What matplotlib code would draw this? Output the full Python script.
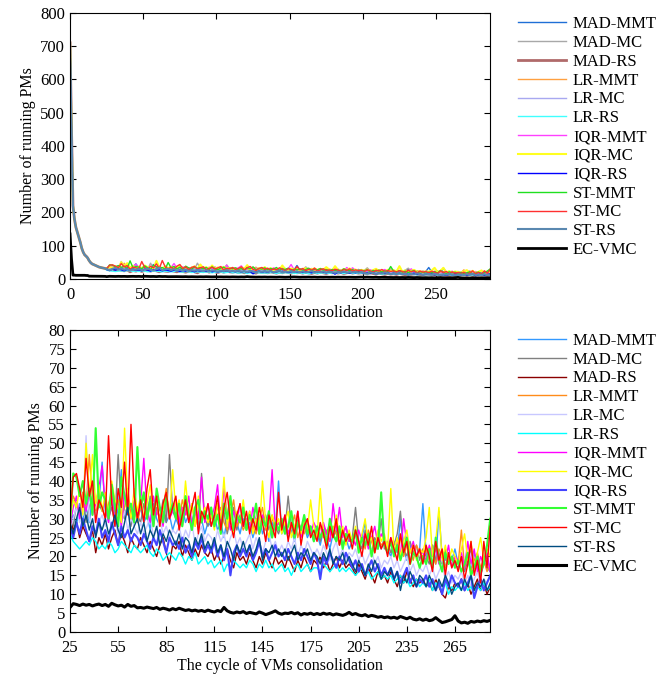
import matplotlib
matplotlib.use("Agg")
import matplotlib.pyplot as plt
import numpy as np

plt.rcParams['font.family'] = ['Liberation Serif', 'DejaVu Serif']

names = ["MAD-MMT", "MAD-MC", "MAD-RS", "LR-MMT", "LR-MC", "LR-RS",
         "IQR-MMT", "IQR-MC", "IQR-RS", "ST-MMT", "ST-MC", "ST-RS", "EC-VMC"]

# cycles 0..24 every cycle, then 25..287 every second cycle
cycles = list(range(0, 25)) + list(range(25, 288, 2))

# shared start of the 12 policies (all identical before cycle 25)
head = [710, 450, 220, 180, 155, 140, 125, 110, 92, 80, 72, 68, 63, 55, 49,
        45, 43, 41, 39, 37, 35, 34, 33, 32, 31]
ec_head = [135, 60, 11, 11, 10.5, 10.5, 10.5, 10.5, 10.5, 10.5, 10.5, 10, 10,
           8, 7.8, 7.8, 7.8, 7.7, 7.7, 7.6, 7.6, 7.5, 7.5, 7.4, 7.3]

mad_mmt = [29, 31, 28, 34, 30, 33, 29, 36, 31, 34, 45,
           32, 30, 35, 28, 33, 43, 30, 34, 29, 32, 30,
           33, 29, 31, 27, 34, 30, 28, 32, 29, 31, 27,
           30, 28, 33, 29, 31, 27, 32, 28, 30, 26, 29,
           28, 31, 27, 29, 25, 30, 33, 27, 29, 26, 30,
           27, 29, 25, 28, 31, 26, 28, 24, 29, 27, 40,
           26, 28, 25, 27, 24, 29, 26, 28, 25, 27, 24,
           26, 23, 27, 25, 22, 26, 24, 27, 23, 25, 22,
           24, 26, 22, 25, 29, 23, 25, 21, 24, 22, 25,
           22, 20, 24, 21, 30, 22, 19, 23, 21, 20, 22,
           34, 21, 19, 23, 18, 32, 20, 17, 21, 19, 22,
           18, 20, 17, 19, 16, 21, 18, 15, 19, 17, 16]
mad_mc = [30, 28, 34, 31, 37, 29, 33, 36, 30, 34, 32,
          35, 30, 33, 29, 47, 32, 30, 34, 28, 33, 31,
          29, 34, 31, 36, 28, 33, 30, 35, 29, 47, 32,
          30, 33, 28, 34, 31, 29, 33, 27, 42, 30, 28,
          31, 29, 34, 28, 32, 26, 30, 33, 27, 31, 29,
          28, 32, 27, 30, 26, 29, 31, 27, 30, 28, 26,
          29, 27, 36, 28, 25, 30, 27, 29, 26, 28, 25,
          27, 24, 28, 26, 29, 25, 27, 23, 26, 28, 24,
          25, 33, 24, 22, 27, 24, 21, 25, 23, 30, 22,
          24, 21, 23, 26, 32, 22, 20, 24, 21, 23, 19,
          22, 20, 18, 23, 19, 21, 17, 22, 19, 20, 18,
          17, 20, 16, 19, 22, 17, 19, 15, 18, 20, 16]
mad_rs = [30, 27, 29, 25, 28, 26, 24, 27, 21, 25, 23,
          26, 22, 25, 27, 23, 26, 24, 21, 25, 23, 22,
          25, 23, 21, 24, 22, 20, 23, 25, 21, 18, 23,
          22, 24, 20, 23, 21, 19, 22, 20, 23, 21, 20,
          22, 19, 21, 18, 20, 22, 19, 17, 21, 19, 20,
          18, 21, 19, 17, 20, 18, 21, 19, 17, 20, 18,
          19, 17, 20, 18, 16, 19, 17, 20, 18, 16, 19,
          18, 20, 17, 19, 16, 18, 20, 17, 19, 17, 18,
          17, 15, 18, 16, 14, 17, 15, 13, 16, 14, 15,
          13, 16, 14, 12, 15, 13, 16, 14, 12, 14, 13,
          14, 12, 13, 11, 14, 12, 10, 9, 12, 11, 13,
          12, 14, 11, 13, 10, 12, 14, 11, 13, 10, 12]
lr_mmt = [32, 36, 34, 30, 37, 33, 47, 35, 31, 36, 33,
          30, 34, 37, 32, 35, 30, 33, 38, 31, 34, 29,
          33, 36, 30, 34, 31, 35, 29, 33, 38, 30, 34,
          31, 29, 35, 32, 30, 34, 28, 32, 30, 33, 29,
          32, 28, 31, 33, 29, 27, 31, 35, 28, 30, 27,
          29, 31, 28, 26, 30, 33, 27, 29, 31, 27, 29,
          27, 30, 26, 28, 31, 25, 28, 26, 29, 27, 25,
          26, 28, 25, 27, 24, 28, 26, 23, 27, 25, 26,
          24, 26, 23, 25, 22, 27, 24, 21, 25, 23, 24,
          22, 24, 21, 23, 25, 20, 23, 22, 19, 23, 21,
          20, 22, 19, 21, 18, 22, 20, 17, 21, 19, 20,
          18, 27, 17, 20, 16, 19, 21, 17, 19, 16, 18]
lr_mc = [27, 30, 33, 29, 31, 52, 30, 27, 32, 29, 31,
         28, 31, 27, 30, 26, 29, 32, 27, 30, 28, 26,
         29, 26, 28, 31, 25, 27, 30, 26, 28, 25, 27,
         26, 28, 24, 27, 25, 29, 23, 26, 28, 24, 26,
         25, 23, 27, 24, 26, 22, 25, 27, 23, 25, 22,
         24, 26, 22, 25, 23, 21, 24, 26, 22, 24, 21,
         23, 21, 24, 22, 25, 20, 23, 21, 24, 22, 20,
         22, 20, 23, 21, 19, 22, 24, 20, 22, 19, 21,
         20, 22, 19, 21, 18, 20, 22, 18, 20, 17, 19,
         18, 20, 17, 19, 16, 18, 20, 16, 18, 15, 17,
         16, 18, 15, 17, 14, 16, 18, 14, 16, 13, 15,
         14, 16, 13, 15, 12, 14, 16, 12, 14, 13, 15]
lr_rs = [26, 24, 23, 22, 23, 24, 23, 25, 24, 22, 23,
         22, 24, 23, 21, 22, 24, 23, 22, 21, 23, 22,
         21, 22, 23, 21, 20, 22, 21, 19, 20, 21, 20,
         19, 21, 20, 18, 20, 19, 21, 18, 19, 20, 18,
         19, 17, 18, 19, 16, 18, 17, 19, 18, 17, 18,
         17, 19, 18, 16, 18, 17, 19, 17, 18, 16, 17,
         18, 16, 17, 15, 17, 18, 16, 17, 18, 16, 17,
         17, 16, 18, 17, 16, 17, 18, 16, 17, 16, 17,
         16, 15, 16, 17, 15, 16, 14, 15, 16, 14, 15,
         14, 15, 13, 14, 15, 13, 14, 12, 13, 14, 12,
         13, 12, 14, 11, 13, 12, 11, 13, 10, 12, 11,
         12, 11, 13, 11, 12, 10, 12, 11, 13, 11, 12]
iqr_mmt = [28, 33, 36, 30, 35, 32, 37, 31, 34, 38, 44,
           33, 29, 36, 31, 34, 28, 37, 32, 30, 35, 31,
           34, 46, 32, 29, 36, 31, 33, 28, 35, 30, 32,
           35, 29, 33, 31, 36, 28, 32, 30, 41, 29, 34,
           30, 33, 39, 28, 38, 31, 27, 32, 29, 34, 28,
           30, 27, 33, 29, 26, 31, 28, 30, 43, 27, 29,
           28, 31, 26, 29, 27, 32, 25, 28, 30, 26, 29,
           27, 25, 29, 26, 24, 34, 27, 33, 25, 28, 24,
           25, 23, 27, 24, 26, 22, 25, 28, 23, 26, 24,
           22, 25, 21, 24, 20, 30, 23, 21, 24, 20, 22,
           21, 19, 23, 20, 22, 18, 21, 19, 23, 17, 20,
           19, 21, 17, 24, 18, 22, 16, 20, 18, 21, 16]
iqr_mc = [30, 35, 33, 38, 31, 50, 36, 47, 34, 39, 32,
          37, 31, 40, 35, 33, 29, 54, 34, 30, 38, 32,
          36, 30, 34, 39, 31, 35, 28, 33, 37, 30, 43,
          32, 35, 29, 40, 31, 34, 28, 36, 30, 33, 29,
          31, 27, 34, 30, 41, 28, 33, 26, 32, 29, 35,
          28, 32, 26, 30, 27, 40, 29, 25, 31, 28, 30,
          26, 29, 32, 25, 28, 31, 26, 30, 27, 35, 28,
          25, 38, 27, 24, 29, 26, 31, 25, 28, 23, 27,
          24, 28, 22, 26, 30, 23, 25, 21, 27, 24, 26,
          22, 38, 21, 25, 20, 24, 27, 21, 23, 19, 22,
          21, 25, 33, 20, 24, 33, 19, 23, 18, 22, 20,
          18, 22, 26, 19, 24, 17, 21, 25, 19, 22, 20]
iqr_rs = [28, 25, 29, 26, 30, 27, 24, 28, 26, 30, 25,
          27, 24, 29, 26, 23, 28, 25, 27, 24, 26, 25,
          23, 26, 24, 22, 25, 23, 27, 24, 21, 25, 23,
          24, 22, 25, 21, 23, 20, 24, 22, 25, 21, 23,
          21, 24, 20, 23, 19, 22, 15, 21, 23, 20, 22,
          20, 23, 19, 21, 24, 20, 22, 19, 21, 23, 20,
          21, 19, 22, 20, 18, 21, 19, 22, 20, 18, 21,
          19, 14, 20, 18, 21, 19, 17, 20, 18, 21, 19,
          17, 19, 16, 18, 15, 17, 19, 16, 18, 15, 17,
          15, 17, 14, 16, 13, 15, 17, 13, 15, 12, 14,
          13, 15, 12, 14, 11, 13, 10, 14, 12, 15, 13,
          12, 14, 11, 13, 15, 9, 12, 14, 11, 13, 15]
st_mmt = [29, 42, 41, 36, 40, 34, 38, 31, 54, 33, 37,
          35, 30, 39, 33, 28, 41, 36, 32, 34, 29, 49,
          33, 37, 30, 35, 28, 38, 33, 29, 36, 31, 34,
          30, 34, 28, 36, 31, 27, 33, 35, 29, 32, 30,
          33, 28, 31, 26, 34, 30, 36, 27, 31, 29, 33,
          27, 31, 29, 34, 26, 30, 28, 32, 25, 29, 27,
          30, 26, 28, 32, 25, 29, 27, 31, 26, 28, 24,
          28, 25, 27, 23, 30, 26, 24, 28, 22, 26, 25,
          24, 27, 21, 25, 23, 26, 20, 24, 22, 37, 23,
          21, 24, 20, 23, 19, 22, 25, 18, 21, 20, 17,
          20, 18, 22, 17, 25, 19, 16, 21, 18, 20, 17,
          19, 16, 18, 21, 15, 17, 20, 16, 18, 23, 30]
st_mc = [31, 41, 42, 38, 33, 46, 36, 40, 29, 35, 33,
         30, 52, 34, 28, 38, 33, 45, 31, 55, 36, 30,
         35, 29, 38, 43, 31, 36, 28, 34, 37, 30, 33,
         36, 27, 31, 35, 29, 33, 37, 26, 32, 30, 34,
         28, 31, 36, 27, 33, 37, 29, 25, 31, 34, 28,
         32, 26, 30, 27, 33, 29, 24, 31, 28, 25, 37,
         27, 31, 24, 29, 26, 32, 23, 28, 30, 25, 27,
         24, 29, 26, 22, 28, 25, 30, 23, 27, 24, 26,
         22, 27, 24, 20, 26, 23, 28, 21, 25, 22, 24,
         20, 25, 22, 19, 26, 21, 24, 18, 23, 20, 22,
         18, 23, 20, 16, 24, 19, 22, 15, 21, 17, 19,
         16, 20, 14, 18, 24, 15, 19, 13, 24, 17, 28]
st_rs = [29, 26, 30, 33, 28, 31, 27, 30, 25, 29, 27,
         30, 26, 28, 31, 27, 25, 29, 33, 26, 28, 30,
         26, 29, 24, 27, 25, 28, 23, 26, 24, 27, 25,
         23, 26, 22, 25, 24, 21, 25, 23, 26, 22, 24,
         22, 25, 21, 23, 20, 24, 22, 19, 23, 21, 24,
         21, 23, 20, 22, 25, 19, 22, 21, 23, 20, 22,
         20, 22, 19, 21, 23, 19, 21, 20, 22, 19, 21,
         20, 18, 21, 19, 22, 18, 20, 19, 21, 18, 20,
         18, 16, 19, 17, 15, 18, 16, 19, 17, 14, 16,
         15, 17, 14, 16, 11, 15, 13, 16, 14, 12, 15,
         14, 12, 15, 13, 11, 14, 12, 15, 13, 10, 12,
         13, 11, 14, 12, 15, 11, 13, 12, 14, 11, 13]
ec_vmc = [6.5, 7.5, 7.3, 7.0, 7.4, 7.1, 7.3, 6.9, 7.2, 7.4, 7.0,
          7.3, 6.8, 7.6, 7.2, 6.9, 7.1, 6.6, 7.3, 6.8, 7.0, 6.4,
          6.5, 6.3, 6.6, 6.4, 6.2, 6.5, 6.0, 6.3, 6.1, 5.8, 6.2,
          5.9, 6.3, 6.0, 5.7, 5.9, 5.6, 5.8, 5.5, 5.7, 5.4, 5.8,
          5.5, 5.3, 5.7, 5.4, 6.5, 5.6, 5.2, 5.0, 5.3, 5.1, 5.4,
          4.9, 5.2, 5.0, 4.8, 5.3, 5.0, 4.6, 4.9, 5.2, 5.6, 5.0,
          4.7, 5.0, 4.9, 5.2, 4.8, 5.1, 4.5, 4.9, 4.7, 5.0, 4.6,
          4.9, 4.6, 5.0, 4.7, 4.9, 4.5, 4.8, 4.6, 4.4, 4.7, 5.2,
          4.6, 4.9, 4.5, 4.3, 4.6, 4.1, 4.4, 4.2, 3.9, 4.1, 3.8,
          4.0, 3.7, 3.9, 3.6, 4.1, 3.8, 3.5, 3.9, 3.4, 3.2, 3.5,
          3.1, 3.4, 3.0, 3.2, 3.8, 3.1, 2.5, 2.7, 3.0, 3.3, 4.3,
          2.9, 2.4, 2.6, 2.3, 2.8, 2.6, 2.9, 2.7, 3.0, 2.8, 3.1]

tails = [mad_mmt, mad_mc, mad_rs, lr_mmt, lr_mc, lr_rs,
         iqr_mmt, iqr_mc, iqr_rs, st_mmt, st_mc, st_rs]
series = [head + t for t in tails] + [ec_head + ec_vmc]

colors_top = ['#1f6fd6', '#a8a8a8', '#b06a6a', '#ffa040', '#a8a8f0', '#40ffff',
              '#ff40ff', '#ffff20', '#0000ff', '#20e020', '#ff3030', '#5a88b0', 'black']
colors_bot = ['#3399ff', '#808080', '#8b0000', '#ff8c1a', '#c8c8ff', '#00ffff',
              '#ff00ff', '#ffff00', '#4444ff', '#33ff33', '#ff0000', '#004c80', 'black']
lw_top = [1, 1, 2, 1, 1, 1, 1, 1.5, 1, 1, 1, 1.5, 2]
lw_bot = [1, 1, 1, 1, 1, 1, 1, 1, 1.5, 1.5, 1, 1, 2.2]

fig = plt.figure(figsize=(6.67, 6.80), dpi=100)
ax1 = fig.add_axes([0.105, 0.590, 0.630, 0.391])
ax2 = fig.add_axes([0.105, 0.0706, 0.630, 0.4441])

x = np.array(cycles)
for ax, cols, lws in [(ax1, colors_top, lw_top), (ax2, colors_bot, lw_bot)]:
    for name, y, c, lw in zip(names, series, cols, lws):
        ax.plot(x, y, color=c, linewidth=lw, label=name)
    ax.tick_params(direction='in', top=True, right=True, labelsize=12, length=4)
    ax.tick_params(axis='x', pad=6)
    ax.set_xlabel("The cycle of VMs consolidation", fontsize=11.5, labelpad=1)
    ax.set_ylabel("Number of running PMs", fontsize=11.5, labelpad=3)
    ax.legend(loc='upper left', bbox_to_anchor=(1.05, 1.013), frameon=False,
              fontsize=12, handlelength=2.9, labelspacing=0.17, borderaxespad=0,
              handletextpad=0.4)

ax1.set_xlim(0, 287)
ax1.set_ylim(0, 800)
ax1.set_xticks(range(0, 251, 50))
ax1.set_yticks(range(0, 801, 100))

ax2.set_xlim(25, 287)
ax2.set_ylim(0, 80)
ax2.set_xticks(range(25, 266, 30))
ax2.set_yticks(range(0, 81, 5))

fig.savefig("out.png", dpi=100)
